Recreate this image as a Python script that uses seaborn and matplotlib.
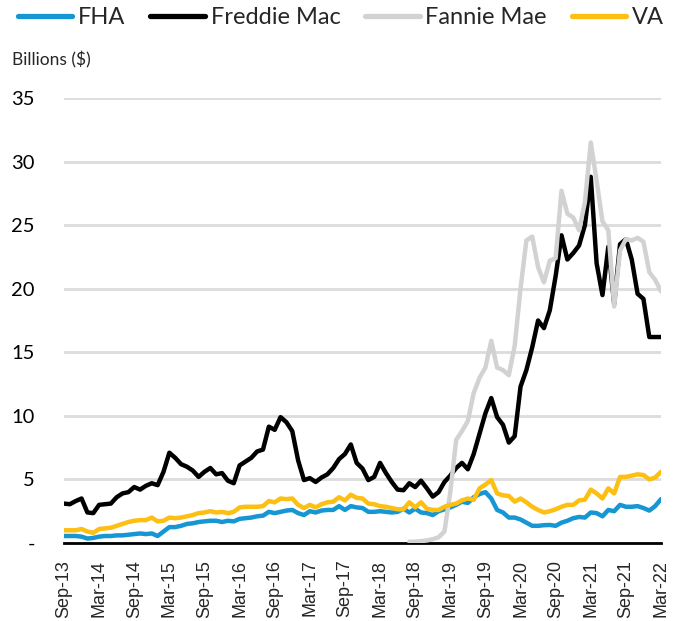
import numpy as np
import pandas as pd
import matplotlib
matplotlib.use("Agg")
import matplotlib.pyplot as plt
from matplotlib.lines import Line2D
import seaborn as sns

# ---------------- data ----------------
tick_labels = ["Sep-13", "Mar-14", "Sep-14", "Mar-15", "Sep-15", "Mar-16", "Sep-16",
               "Mar-17", "Sep-17", "Mar-18", "Sep-18", "Mar-19", "Sep-19", "Mar-20",
               "Sep-20", "Mar-21", "Sep-21", "Mar-22"]
months = pd.date_range("2013-09-01", "2022-03-01", freq="MS")

fha = [0.55, 0.55, 0.55, 0.5, 0.35, 0.4, 0.5, 0.55, 0.55, 0.6,
       0.6, 0.65, 0.7, 0.75, 0.7, 0.75, 0.55, 0.9, 1.25, 1.25,
       1.35, 1.5, 1.55, 1.65, 1.7, 1.75, 1.75, 1.65, 1.75, 1.7,
       1.9, 1.95, 2.0, 2.1, 2.15, 2.45, 2.35, 2.45, 2.55, 2.6,
       2.35, 2.2, 2.5, 2.4, 2.55, 2.6, 2.6, 2.9, 2.6, 2.9,
       2.8, 2.75, 2.45, 2.45, 2.5, 2.45, 2.4, 2.45, 2.7, 2.4,
       2.7, 2.4, 2.35, 2.2, 2.5, 2.65, 2.8, 3.0, 3.25, 3.15,
       3.6, 3.85, 4.0, 3.5, 2.6, 2.4, 2.0, 2.0, 1.85, 1.6,
       1.35, 1.35, 1.4, 1.42, 1.35, 1.6, 1.75, 1.95, 2.05, 2.0,
       2.4, 2.35, 2.1, 2.6, 2.5, 3.0, 2.85, 2.85, 2.9, 2.75,
       2.55, 2.9, 3.45]

freddie = [3.1, 3.05, 3.3, 3.5, 2.4, 2.35, 3.0, 3.05, 3.1, 3.6,
           3.9, 4.0, 4.4, 4.2, 4.5, 4.7, 4.55, 5.6, 7.1, 6.7,
           6.2, 6.0, 5.7, 5.2, 5.6, 5.9, 5.4, 5.5, 4.9, 4.7,
           6.1, 6.4, 6.7, 7.2, 7.35, 9.15, 8.9, 9.9, 9.5, 8.8,
           6.5, 4.95, 5.1, 4.8, 5.15, 5.4, 5.9, 6.6, 7.0, 7.75,
           6.3, 5.85, 4.95, 5.2, 6.3, 5.5, 4.8, 4.2, 4.15, 4.7,
           4.4, 4.9, 4.3, 3.65, 4.0, 4.8, 5.3, 5.9, 6.3, 5.8,
           7.0, 8.6, 10.2, 11.4, 9.9, 9.3, 7.9, 8.4, 12.3, 13.6,
           15.4, 17.5, 16.9, 18.3, 21.0, 24.2, 22.3, 22.8, 23.4, 25.0,
           28.8, 22.0, 19.5, 23.3, 18.8, 23.5, 23.9, 22.3, 19.6, 19.2,
           16.2, 16.2, 16.2]

fannie = [np.nan] * 59 + [
    0.1, 0.1, 0.15, 0.2, 0.3, 0.45, 0.9, 4.0, 8.1, 8.8,
    9.6, 11.8, 13.0, 13.8, 15.9, 13.8, 13.6, 13.2, 15.5, 20.0,
    23.8, 24.1, 21.7, 20.5, 22.2, 22.4, 27.7, 25.9, 25.6, 24.6,
    26.8, 31.5, 28.5, 25.3, 24.6, 18.6, 23.0, 23.9, 23.8, 24.0,
    23.7, 21.3, 20.7, 19.8]

va = [1.0, 1.0, 1.0, 1.1, 0.9, 0.8, 1.1, 1.15, 1.2, 1.35,
      1.5, 1.65, 1.75, 1.8, 1.8, 2.0, 1.7, 1.75, 2.0, 1.95,
      2.0, 2.1, 2.2, 2.35, 2.4, 2.5, 2.4, 2.45, 2.35, 2.45,
      2.8, 2.85, 2.85, 2.85, 2.9, 3.3, 3.2, 3.5, 3.45, 3.5,
      3.0, 2.75, 3.0, 2.8, 3.05, 3.2, 3.25, 3.6, 3.35, 3.8,
      3.55, 3.5, 3.1, 3.05, 2.9, 2.85, 2.75, 2.65, 2.65, 3.2,
      2.8, 3.2, 2.7, 2.6, 2.6, 2.85, 3.0, 3.1, 3.35, 3.5,
      3.4, 4.3, 4.6, 4.95, 3.9, 3.75, 3.7, 3.25, 3.5, 3.2,
      2.85, 2.6, 2.4, 2.5, 2.65, 2.85, 3.0, 3.0, 3.35, 3.4,
      4.2, 3.9, 3.5, 4.3, 3.9, 5.2, 5.2, 5.3, 5.4, 5.35,
      5.0, 5.15, 5.6]

series_names = ["FHA", "Freddie Mac", "Fannie Mae", "VA"]
series_values = [fha, freddie, fannie, va]
colors = ["#1696d2", "#000000", "#d2d2d2", "#fdbf11"]
yticks = [0, 5, 10, 15, 20, 25, 30, 35]
ytick_labels = ["-", "5", "10", "15", "20", "25", "30", "35"]

# ---------------- build long table ----------------
idx = np.arange(len(months))
frames = []
for name, vals in zip(series_names, series_values):
    frames.append(pd.DataFrame({"m": idx, "value": vals, "series": name}))
df = pd.concat(frames, ignore_index=True).dropna()

# ---------------- plot ----------------
sns.set_style("white")
plt.rcParams["font.family"] = ["Lato", "DejaVu Sans"]

fig = plt.figure(figsize=(6.8, 6.21), dpi=100)
ax = fig.add_axes([64 / 680, 1 - 543 / 621, (661 - 64) / 680, (543 - 98) / 621])

sns.lineplot(data=df, x="m", y="value", hue="series", hue_order=series_names,
             palette=colors, linewidth=3.2, estimator=None, sort=True,
             legend=False, ax=ax)
for ln in ax.get_lines():
    ln.set_solid_capstyle("round")
    ln.set_solid_joinstyle("round")

ax.set_xlim(0, len(months) - 1)
ax.set_ylim(0, 35)
ax.set_yticks(yticks)
ax.set_yticklabels(ytick_labels, fontsize=14.5, color="#000000")
ax.set_xticks(np.arange(0, len(months), 6))
ax.set_xticklabels(tick_labels, rotation=90, fontsize=13,
                   family=["Liberation Sans", "DejaVu Sans"])
ax.tick_params(axis="y", length=0, pad=21)
ax.tick_params(axis="x", length=7, width=1.5, color="black", pad=5, direction="out")
ax.set_xlabel("")
ax.set_ylabel("")
ax.grid(axis="y", color="#dcdcdc", linewidth=2)
ax.grid(axis="x", visible=False)
ax.set_axisbelow(True)
for s in ["top", "right", "left"]:
    ax.spines[s].set_visible(False)
ax.spines["bottom"].set_color("black")
ax.spines["bottom"].set_linewidth(2)
ax.spines["bottom"].set_zorder(1)

fig.text(12 / 680, 1 - 60 / 621, "Billions ($)", fontsize=12.5, va="center", ha="left")

handles = [Line2D([0], [0], color=c, linewidth=3.8, solid_capstyle="round") for c in colors]
fig.legend(handles, series_names, loc="center", bbox_to_anchor=(341 / 680, 1 - 18 / 621),
           ncol=4, frameon=False, fontsize=17, handlelength=2.3, handletextpad=0.25,
           columnspacing=1.05, borderaxespad=0, borderpad=0)

fig.savefig("out.png", dpi=100)
